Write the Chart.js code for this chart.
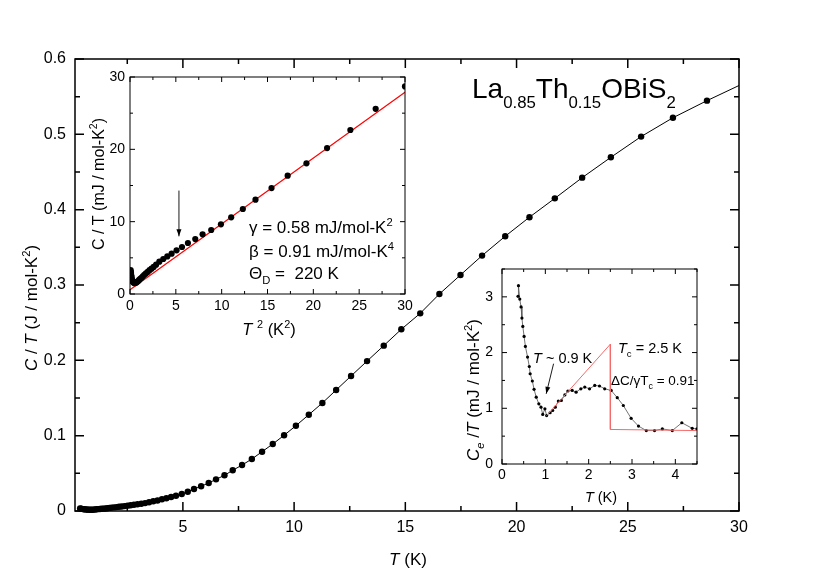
<!DOCTYPE html>
<html>
<head>
<meta charset="utf-8">
<script src="https://cdn.jsdelivr.net/npm/chart.js@4.4.0/dist/chart.umd.min.js"></script>
<style>
  body { margin: 0; background: #fff; }
  #wrap { position: relative; width: 822px; height: 575px; }
  canvas { position: absolute; left: 0; top: 0; }
</style>
</head>
<body>
<div id="wrap">
  <canvas id="main" width="822" height="575"></canvas>
  <canvas id="ins1" width="822" height="575"></canvas>
  <canvas id="ins2" width="822" height="575"></canvas>
</div>
<script>
// main plot: C/T (J/mol-K^2) vs T (K)
const mainT = [0.38,0.42,0.46,0.51,0.56,0.62,0.68,0.74,0.80,0.86,0.92,0.98,
  1.05,1.12,1.19,1.27,1.35,1.43,1.52,1.61,1.70,1.79,
  1.90,2.02,2.13,2.25,2.38,2.51,2.65,2.80,2.96,
  3.13,3.30,3.48,3.67,3.86,4.06,4.26,4.47,4.69,4.95,5.22,5.50,
  5.82,6.16,6.49,6.87,7.24,7.66,8.10,8.56,9.04,9.55,
  10.08,10.66,11.27,11.89,12.56,13.28,14.03,14.82,
  15.67,16.53,17.48,18.45,19.49,20.58,21.72,22.95,24.24,25.60,27.03,28.56,30.30];
const mainCT = [0.0033,0.0031,0.0028,0.0025,0.0023,0.0021,0.0019,0.0018,0.0017,0.0017,0.0017,0.0018,
  0.0021,0.0023,0.0025,0.0027,0.0029,0.0031,0.0034,0.0037,0.0041,0.0045,
  0.0048,0.0052,0.0056,0.0060,0.0065,0.0071,0.0076,0.0083,0.0090,
  0.0097,0.0105,0.0116,0.0129,0.0140,0.0155,0.0170,0.0185,0.0203,0.0226,0.0256,0.0293,
  0.0328,0.0372,0.0420,0.0474,0.0540,0.0610,0.0690,0.0787,0.0889,0.1005,
  0.1132,0.1278,0.1434,0.1606,0.1792,0.1990,0.2195,0.2412,
  0.2624,0.2880,0.3133,0.3390,0.3647,0.3900,0.4150,0.4425,0.4695,0.4970,0.5220,0.5447,0.5690];

// inset 1: C/T (mJ/mol-K^2) vs T^2
const t2 = [0.05,0.07,0.09,0.11,0.13,0.16,0.19,0.22,0.26,
  0.31,0.37,0.44,0.52,0.60,0.70,0.80,0.90,1.00,
  1.12,1.25,1.40,1.56,1.74,1.93,2.13,2.35,2.58,2.85,3.20,
  3.63,4.07,4.54,5.08,5.67,6.32,7.12,7.92,8.86,9.92,
  11.04,12.31,13.69,15.44,17.20,19.25,21.50,24.04,26.80,30.00];
const ctMJ = [2.6,3.3,3.1,2.9,2.6,2.4,2.15,1.95,1.8,
  1.7,1.6,1.55,1.5,1.55,1.6,1.7,1.8,1.95,
  2.1,2.25,2.45,2.65,2.85,3.05,3.3,3.5,3.75,4.05,4.47,
  4.84,5.2,5.58,6.04,6.5,7.05,7.6,8.25,8.85,9.63,
  10.6,11.75,13.04,14.65,16.36,18.06,20.18,22.67,25.6,28.7];
const fitT2 = [0, 30];
const fitCT = [0.58, 27.88];
const arrow1 = [[5.34, 14.3], [5.34, 7.97]];

// inset 2: Ce/T (mJ/mol-K^2) vs T
const ceT = [0.37,0.38,0.41,0.44,0.46,0.48,0.51,0.54,0.59,0.63,0.65,
  0.70,0.74,0.79,0.85,0.90,0.94,0.99,1.03,
  1.11,1.17,1.23,1.30,1.37,1.45,1.52,1.62,1.71,1.82,1.91,
  2.02,2.14,2.25,2.37,2.52,2.66,2.80,2.98,
  3.15,3.33,3.52,3.70,3.93,4.15,4.39,4.50];
const ceCT = [3.01,3.20,2.96,2.82,2.62,2.47,2.29,2.11,1.92,1.75,1.62,
  1.49,1.34,1.20,1.08,1.02,0.89,0.99,0.87,
  0.92,0.96,1.02,1.13,1.14,1.24,1.31,1.32,1.29,1.35,1.38,
  1.35,1.41,1.40,1.35,1.32,1.19,1.05,0.82,
  0.68,0.60,0.60,0.63,0.60,0.74,0.64,0.63];
const jumpT = [1.03, 2.5, 2.5, 4.5];
const jumpCT = [0.87, 2.15, 0.62, 0.60];
const arrow2 = [[1.19, 1.80], [1.02, 1.26]];

// tick labels
const mainXTicks = [5, 10, 15, 20, 25, 30];
const mainYTicks = [0, 0.1, 0.2, 0.3, 0.4, 0.5, 0.6];
const ins1XTicks = [0, 5, 10, 15, 20, 25, 30];
const ins1YTicks = [0, 10, 20, 30];
const ins2XTicks = [0, 1, 2, 3, 4];
const ins2YTicks = [0, 1, 2, 3];

const FONT = '"Liberation Sans", Arial, sans-serif';

function pts(xs, ys) { return xs.map((x, i) => ({x: x, y: ys[i]})); }

// text pieces
const N = t => ({t});
const I = t => ({t, i: true});
const Sub = t => ({t, sub: true});
const ISub = t => ({t, sub: true, i: true});
const Sup = t => ({t, sup: true});

function drawRich(ctx, n) {
  const size = n.size;
  const parts = n.segs.map(s => {
    const sz = (s.sub || s.sup) ? size * (n.subScale || 0.66) : size;
    const font = (s.i ? 'italic ' : '') + sz + 'px ' + FONT;
    ctx.font = font;
    return {t: s.t, font, w: ctx.measureText(s.t).width,
      dy: s.sub ? size * (n.subDy || 0.3) : s.sup ? -size * 0.42 : 0};
  });
  const total = parts.reduce((a, p) => a + p.w, 0);
  ctx.save();
  ctx.translate(n.x, n.y);
  if (n.rot) ctx.rotate(-Math.PI / 2);
  ctx.fillStyle = '#000';
  ctx.textAlign = 'left';
  ctx.textBaseline = 'alphabetic';
  let cx = n.align === 'center' ? -total / 2 : 0;
  parts.forEach(p => { ctx.font = p.font; ctx.fillText(p.t, cx, p.dy); cx += p.w; });
  ctx.restore();
}

// box with inward ticks on all four sides, plus texts and arrows
const frame = {
  id: 'frame',
  afterDraw(chart, args, o) {
    const {ctx, chartArea: a} = chart;
    const x = chart.scales.x, y = chart.scales.y;
    ctx.save();
    ctx.strokeStyle = '#000';
    ctx.lineWidth = o.lw;
    ctx.strokeRect(a.left, a.top, a.right - a.left, a.bottom - a.top);
    const marks = (sc, minor, major) => {
      const out = [];
      for (let k = Math.ceil(sc.min / minor - 1e-9); k * minor <= sc.max + 1e-9; k++) {
        const v = k * minor, r = v / major;
        out.push([sc.getPixelForValue(v), Math.abs(r - Math.round(r)) < 1e-6 ? o.major : o.minor]);
      }
      return out;
    };
    ctx.beginPath();
    marks(x, o.xMinor, o.xMajor).forEach(([p, l]) => {
      ctx.moveTo(p, a.bottom); ctx.lineTo(p, a.bottom - l);
      ctx.moveTo(p, a.top); ctx.lineTo(p, a.top + l);
    });
    marks(y, o.yMinor, o.yMajor).forEach(([p, l]) => {
      ctx.moveTo(a.left, p); ctx.lineTo(a.left + l, p);
      ctx.moveTo(a.right, p); ctx.lineTo(a.right - l, p);
    });
    ctx.stroke();
    (o.arrows || []).forEach(ar => {
      const x0 = x.getPixelForValue(ar[0][0]), y0 = y.getPixelForValue(ar[0][1]);
      const x1 = x.getPixelForValue(ar[1][0]), y1 = y.getPixelForValue(ar[1][1]);
      const ang = Math.atan2(y1 - y0, x1 - x0);
      ctx.lineWidth = 0.9;
      ctx.beginPath(); ctx.moveTo(x0, y0); ctx.lineTo(x1, y1); ctx.stroke();
      ctx.beginPath();
      ctx.moveTo(x1, y1);
      ctx.lineTo(x1 - 7 * Math.cos(ang) + 2.5 * Math.sin(ang), y1 - 7 * Math.sin(ang) - 2.5 * Math.cos(ang));
      ctx.lineTo(x1 - 7 * Math.cos(ang) - 2.5 * Math.sin(ang), y1 - 7 * Math.sin(ang) + 2.5 * Math.cos(ang));
      ctx.closePath(); ctx.fillStyle = '#000'; ctx.fill();
    });
    ctx.restore();
    (o.texts || []).forEach(n => drawRich(ctx, n));
  }
};

function axis(min, max, ticks, fmt, size, pad, fit) {
  return {
    type: 'linear', min: min, max: max,
    grid: {display: false, drawTicks: false},
    border: {display: false},
    ticks: {color: '#000', font: {family: FONT, size: size}, padding: pad,
      autoSkip: false, maxRotation: 0, callback: v => fmt(v)},
    afterBuildTicks: s => { s.ticks = ticks.map(v => ({value: v})); },
    afterFit: fit
  };
}

function makeChart(id, datasets, padding, xs, ys, frameOpts) {
  return new Chart(document.getElementById(id), {
    type: 'scatter',
    data: {datasets: datasets},
    options: {
      responsive: false, animation: false, devicePixelRatio: 1,
      layout: {padding: padding},
      plugins: {legend: {display: false}, tooltip: {enabled: false}, frame: frameOpts},
      scales: {x: xs, y: ys}
    },
    plugins: [frame]
  });
}

// main chart
makeChart('main', [{
    data: pts(mainT, mainCT), showLine: true,
    borderColor: '#000', borderWidth: 1,
    backgroundColor: '#000', pointBorderWidth: 0,
    pointRadius: c => c.dataIndex === mainT.length - 1 ? 0 : 3.2,
    clip: {left: 6, top: 6, right: 0, bottom: 6}
  }],
  {left: 0, top: 59, right: 83, bottom: 0},
  axis(0.15, 30, mainXTicks, v => String(v), 16, 7, s => { s.height = 64; }),
  axis(0, 0.6, mainYTicks, v => v === 0 ? '0' : v.toFixed(1), 16, 9, s => { s.width = 75; }),
  {lw: 1.5, major: 9, minor: 5, xMajor: 5, xMinor: 2.5, yMajor: 0.1, yMinor: 0.05,
   texts: [
     {segs: [I('C'), N(' / '), I('T'), N(' (J / mol-K'), Sup('2'), N(')')], x: 37, y: 308, size: 17, align: 'center', rot: true},
     {segs: [I('T'), N(' (K)')], x: 408, y: 565, size: 17, align: 'center'},
     {segs: [N('La'), Sub('0.85'), N('Th'), Sub('0.15'), N('OBiS'), Sub('2')], x: 472, y: 98, size: 28, subScale: 0.6, subDy: 0.35}
   ]}
);

// inset 1
makeChart('ins1', [{
    data: pts(t2, ctMJ),
    backgroundColor: '#000', pointBorderWidth: 0, pointRadius: 3.1
  }, {
    data: pts(fitT2, fitCT), showLine: true,
    borderColor: '#ff0000', borderWidth: 1.2, pointRadius: 0
  }],
  {left: 90, top: 77, right: 417, bottom: 241},
  axis(0, 30, ins1XTicks, v => String(v), 14, 4, s => { s.height = 40; }),
  axis(0, 30, ins1YTicks, v => String(v), 14, 5, s => { s.width = 40; }),
  {lw: 1, major: 5, minor: 3, xMajor: 5, xMinor: 2.5, yMajor: 10, yMinor: 5,
   arrows: [arrow1],
   texts: [
     {segs: [N('C / T (mJ / mol-K'), Sup('2'), N(')')], x: 104, y: 184, size: 16, align: 'center', rot: true},
     {segs: [I('T'), N(' '), Sup('2'), N(' (K'), Sup('2'), N(')')], x: 269, y: 335, size: 16.5, align: 'center'},
     {segs: [N('γ = 0.58 mJ/mol-K'), Sup('2')], x: 249, y: 233, size: 17},
     {segs: [N('β = 0.91 mJ/mol-K'), Sup('4')], x: 249, y: 257, size: 17},
     {segs: [N('Θ'), Sub('D'), N(' =  220 K')], x: 249, y: 279, size: 17}
   ]}
);

// inset 2
makeChart('ins2', [{
    data: pts(jumpT, jumpCT), showLine: true,
    borderColor: 'rgb(245,105,105)', borderWidth: 1, pointRadius: 0
  }, {
    data: pts(ceT, ceCT), showLine: true,
    borderColor: 'rgb(80,80,80)', borderWidth: 0.8,
    backgroundColor: '#000', pointBorderWidth: 0, pointRadius: 1.6
  }],
  {left: 472, top: 269, right: 125, bottom: 81},
  axis(0, 4.5, ins2XTicks, v => String(v), 14, 3, s => { s.height = 30; }),
  axis(0, 3.5, ins2YTicks, v => String(v), 14, 9, s => { s.width = 30; }),
  {lw: 1, major: 5, minor: 3, xMajor: 1, xMinor: 0.5, yMajor: 1, yMinor: 0.5,
   arrows: [arrow2],
   texts: [
     {segs: [I('C'), ISub('e'), N(' /'), I('T'), N(' (mJ / mol-K'), Sup('2'), N(')')], x: 479, y: 390, size: 17, align: 'center', rot: true},
     {segs: [I('T'), N(' (K)')], x: 601, y: 502, size: 14.5, align: 'center'},
     {segs: [I('T'), N(' ~ 0.9 K')], x: 533, y: 363, size: 14.5},
     {segs: [I('T'), Sub('c'), N(' = 2.5 K')], x: 618, y: 353, size: 14.5},
     {segs: [N('ΔC/γT'), Sub('c'), N(' = 0.91')], x: 611, y: 385, size: 13.5}
   ]}
);
</script>
</body>
</html>
